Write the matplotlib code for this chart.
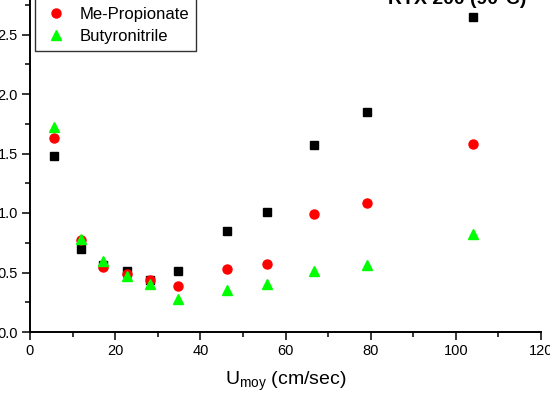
import matplotlib
matplotlib.use("Agg")
import matplotlib.pyplot as plt
from matplotlib.ticker import MultipleLocator

plt.rcParams['font.family'] = ['Liberation Sans', 'DejaVu Sans']

# linear velocity (cm/sec)
u_moy = [5.7, 12.0, 17.1, 22.7, 28.2, 34.7, 46.2, 55.6, 66.7, 79.2, 104.1]

# plate height values per solute
first_solute = [1.48, 0.70, 0.56, 0.51, 0.44, 0.51, 0.85, 1.01, 1.57, 1.85, 2.65]
me_propionate = [1.63, 0.77, 0.55, 0.49, 0.44, 0.39, 0.53, 0.57, 0.99, 1.08, 1.58]
butyronitrile = [1.72, 0.78, 0.60, 0.47, 0.40, 0.28, 0.35, 0.40, 0.51, 0.56, 0.82]

fig = plt.figure(figsize=(5.5, 3.97), dpi=100)
ax = fig.add_axes([30 / 550, 65 / 397, 511 / 550, 357 / 397])

ax.plot(u_moy, first_solute, "s", color="black", ms=5.8, label="Toluene")
ax.plot(u_moy, me_propionate, "o", color="red", ms=6.5, label="Me-Propionate")
ax.plot(u_moy, butyronitrile, "^", color="#00ff00", ms=7, label="Butyronitrile")

ax.set_xlim(0, 120)
ax.set_ylim(0, 3.0)
ax.xaxis.set_major_locator(MultipleLocator(20))
ax.xaxis.set_minor_locator(MultipleLocator(10))
ax.yaxis.set_major_locator(MultipleLocator(0.5))
ax.yaxis.set_minor_locator(MultipleLocator(0.25))
ax.yaxis.set_major_formatter(lambda v, p: f"{v:.1f}")

for s in ["top", "right"]:
    ax.spines[s].set_visible(False)
for s in ["left", "bottom"]:
    ax.spines[s].set_linewidth(1.4)

ax.tick_params(which="major", direction="out", length=5.8, width=1.1, labelsize=10.5, pad=3)
ax.tick_params(which="minor", direction="out", length=3.3, width=1.1)

ax.set_xlabel(r"$\mathregular{U_{moy}}$ (cm/sec)", fontsize=14, labelpad=8)

fig.text(457 / 550, 1 - 4 / 397, "RTX 200 (90°C)", fontsize=14, fontweight="bold",
         ha="center", va="baseline")

leg = ax.legend(loc="lower left", bbox_to_anchor=(35 / 550, 1 - 51 / 397),
                bbox_transform=fig.transFigure, fontsize=12, frameon=True,
                fancybox=False, edgecolor="black", borderaxespad=0,
                handlelength=1.7, handletextpad=0.6, labelspacing=0.42, borderpad=0.4)
leg.get_frame().set_linewidth(1.0)

fig.savefig("out.png", dpi=100)
